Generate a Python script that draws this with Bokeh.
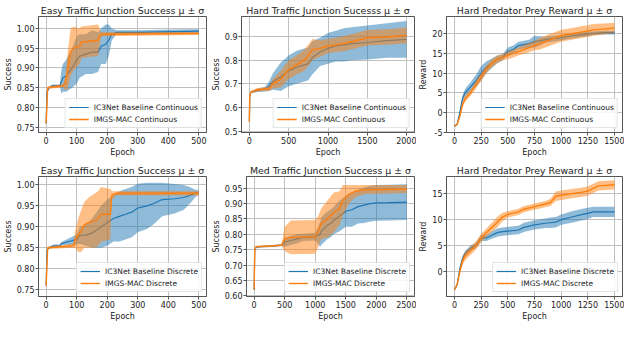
import numpy as np
from bokeh.plotting import figure
from bokeh.layouts import column, row
from bokeh.models import FixedTicker, Range1d, Legend, NumeralTickFormatter
from bokeh.embed import file_html
from bokeh.resources import INLINE

BLUE = "#1f77b4"
ORANGE = "#ff7f0e"
FONT = "DejaVu Sans"

# ---------------- Panel 1: Easy Traffic Junction (Continuous) ----------------
p1_bx = [0, 3, 10, 20, 45, 50, 55, 65, 75, 85, 100, 110, 130, 150, 170, 180, 195, 205, 215, 230, 300, 420, 500]
p1_bm = [0.76, 0.84, 0.85, 0.855, 0.855, 0.865, 0.875, 0.88, 0.89, 0.90, 0.92, 0.93, 0.935, 0.94, 0.94, 0.955, 0.96, 0.97, 0.985, 0.99, 0.99, 0.992, 0.993]
p1_bs = [0, 0.002, 0.003, 0.003, 0.003, 0.03, 0.035, 0.04, 0.045, 0.05, 0.06, 0.055, 0.05, 0.055, 0.05, 0.045, 0.05, 0.04, 0.015, 0.005, 0.005, 0.005, 0.005]
p1_ox = [0, 5, 55, 62, 70, 80, 90, 110, 115, 170, 180, 500]
p1_om = [0.76, 0.85, 0.855, 0.86, 0.89, 0.94, 0.95, 0.955, 0.965, 0.97, 0.985, 0.987]
p1_os = [0, 0.003, 0.004, 0.015, 0.045, 0.06, 0.055, 0.045, 0.04, 0.04, 0.005, 0.004]

# ---------------- Panel 2: Hard Traffic Junction (Continuous) ----------------
p2_x = [0, 5, 20, 100, 200, 250, 300, 400, 500, 600, 700, 750, 800, 900, 1000, 1100, 1200, 1300, 1500, 1750, 2000]
p2_bm = [0.54, 0.65, 0.665, 0.672, 0.678, 0.69, 0.71, 0.73, 0.755, 0.77, 0.78, 0.785, 0.81, 0.835, 0.85, 0.86, 0.865, 0.87, 0.875, 0.883, 0.888]
p2_bs = [0, 0.005, 0.005, 0.007, 0.01, 0.02, 0.035, 0.06, 0.065, 0.07, 0.07, 0.07, 0.07, 0.06, 0.065, 0.065, 0.07, 0.07, 0.072, 0.073, 0.078]
p2_om = [0.54, 0.65, 0.665, 0.675, 0.678, 0.68, 0.70, 0.72, 0.76, 0.78, 0.80, 0.82, 0.845, 0.85, 0.86, 0.865, 0.87, 0.878, 0.895, 0.898, 0.905]
p2_os = [0, 0.005, 0.005, 0.007, 0.008, 0.01, 0.02, 0.035, 0.04, 0.04, 0.045, 0.045, 0.045, 0.035, 0.03, 0.03, 0.032, 0.032, 0.033, 0.033, 0.033]

# ---------------- Panel 3: Hard Predator Prey (Continuous) ----------------
p3_x = [0, 25, 50, 75, 100, 150, 200, 250, 300, 350, 400, 450, 500, 550, 600, 700, 750, 800, 850, 900, 1000, 1100, 1200, 1250, 1300, 1400, 1500]
p3_bm = [-3.5, -3, 0, 3.5, 5, 6.5, 8, 10, 11.5, 12.5, 13.5, 14, 15.5, 16, 17, 17.5, 18, 18.2, 18.5, 18.7, 19, 19.5, 19.8, 20, 20.1, 20.3, 20.3]
p3_bs = [0.2, 0.3, 0.5, 0.8, 1, 1.2, 1.5, 1.8, 1.5, 1.2, 1, 0.8, 1, 1, 1, 1, 1.5, 1.2, 0.8, 0.8, 0.7, 0.7, 0.6, 0.6, 0.5, 0.5, 0.5]
p3_om = [-3.5, -3, -1, 2, 3.5, 5, 7, 9, 11, 12.5, 13.5, 14, 14.5, 15, 15.5, 16.5, 17, 17.5, 18, 18.5, 19.5, 20, 20.5, 20.7, 21, 21.2, 21.5]
p3_os = [0.2, 0.3, 0.5, 0.8, 0.8, 0.8, 1, 1, 1, 1, 1, 0.8, 1, 1, 1, 1.2, 1.2, 1.5, 1.5, 1.5, 1.5, 1.5, 1.5, 1.5, 1.5, 1.4, 1.3]

# ---------------- Panel 4: Easy Traffic Junction (Discrete) ----------------
p4_bx = [0, 3, 10, 25, 45, 50, 75, 100, 110, 130, 150, 160, 180, 200, 220, 240, 260, 280, 300, 330, 350, 380, 420, 450, 470, 490, 500]
p4_bm = [0.76, 0.845, 0.85, 0.855, 0.855, 0.86, 0.865, 0.87, 0.88, 0.88, 0.885, 0.89, 0.90, 0.91, 0.92, 0.925, 0.93, 0.935, 0.945, 0.95, 0.955, 0.965, 0.967, 0.97, 0.975, 0.98, 0.982]
p4_bs = [0, 0.002, 0.003, 0.003, 0.003, 0.004, 0.008, 0.012, 0.02, 0.025, 0.035, 0.04, 0.05, 0.055, 0.055, 0.06, 0.06, 0.06, 0.058, 0.055, 0.05, 0.04, 0.035, 0.03, 0.02, 0.008, 0.005]
p4_ox = [0, 5, 90, 95, 105, 115, 125, 140, 160, 170, 180, 210, 215, 230, 500]
p4_om = [0.76, 0.85, 0.855, 0.87, 0.88, 0.89, 0.905, 0.91, 0.915, 0.92, 0.93, 0.93, 0.975, 0.98, 0.98]
p4_os = [0, 0.003, 0.005, 0.02, 0.04, 0.05, 0.055, 0.06, 0.065, 0.065, 0.065, 0.06, 0.01, 0.005, 0.005]

# ---------------- Panel 5: Med Traffic Junction (Discrete) ----------------
p5_bx = [0, 10, 30, 100, 300, 450, 500, 600, 700, 800, 1000, 1080, 1100, 1150, 1200, 1250, 1300, 1400, 1500, 1600, 1700, 1800, 1900, 2000, 2200, 2500]
p5_bm = [0.62, 0.75, 0.758, 0.76, 0.762, 0.765, 0.775, 0.78, 0.785, 0.79, 0.792, 0.80, 0.81, 0.82, 0.83, 0.835, 0.845, 0.86, 0.875, 0.88, 0.89, 0.895, 0.90, 0.902, 0.903, 0.905]
p5_bs = [0, 0.003, 0.003, 0.003, 0.003, 0.003, 0.015, 0.015, 0.015, 0.012, 0.012, 0.04, 0.045, 0.045, 0.045, 0.045, 0.045, 0.05, 0.05, 0.055, 0.055, 0.058, 0.058, 0.058, 0.058, 0.058]
p5_ox = [0, 10, 30, 300, 450, 500, 600, 1000, 1050, 1100, 1200, 1300, 1400, 1450, 1550, 1650, 1800, 2500]
p5_om = [0.62, 0.75, 0.76, 0.762, 0.765, 0.785, 0.79, 0.792, 0.81, 0.835, 0.85, 0.87, 0.885, 0.91, 0.93, 0.94, 0.945, 0.947]
p5_os = [0, 0.003, 0.003, 0.003, 0.003, 0.04, 0.055, 0.055, 0.05, 0.05, 0.06, 0.065, 0.055, 0.05, 0.03, 0.02, 0.015, 0.013]

# ---------------- Panel 6: Hard Predator Prey (Discrete) ----------------
p6_x = [0, 25, 50, 75, 100, 125, 150, 200, 250, 300, 350, 400, 450, 500, 600, 650, 750, 850, 900, 950, 1000, 1100, 1200, 1250, 1300, 1350, 1500]
p6_bm = [-3.5, -2.5, 0.5, 2.5, 3.5, 4, 4.5, 5, 6.5, 6.5, 7, 7.5, 7.7, 7.8, 8, 8.5, 9, 9.3, 9.4, 9.5, 10, 10.5, 11, 11.2, 11.5, 11.5, 11.5]
p6_bs = [0.2, 0.3, 0.5, 0.5, 0.5, 0.5, 0.5, 0.5, 0.6, 0.6, 0.7, 0.8, 0.8, 0.8, 0.8, 0.9, 0.9, 0.9, 1.0, 1.0, 1.0, 1.1, 1.1, 1.1, 1.0, 1.0, 1.0]
p6_om = [-3.5, -2.5, 0, 2, 3, 3.5, 4, 5, 6.5, 7.5, 8.5, 9.5, 10.5, 11, 11.5, 12, 12.5, 13, 13.3, 14.5, 14.7, 15, 15.3, 15.5, 16, 16.5, 16.7]
p6_os = [0.2, 0.3, 0.5, 0.8, 0.8, 0.8, 0.8, 0.8, 0.8, 0.8, 0.9, 1.0, 0.8, 0.6, 0.6, 0.6, 0.6, 0.6, 0.7, 0.9, 0.9, 0.9, 0.9, 0.9, 0.9, 0.9, 0.9]

# tick values
xt_500 = [0, 100, 200, 300, 400, 500]
xt_2000 = [0, 500, 1000, 1500, 2000]
xt_1500 = [0, 250, 500, 750, 1000, 1250, 1500]
xt_2500 = [0, 500, 1000, 1500, 2000, 2500]
yt_easy = [0.75, 0.80, 0.85, 0.90, 0.95, 1.00]
yt_hard = [0.5, 0.6, 0.7, 0.8, 0.9]
yt_pp_c = [-5, 0, 5, 10, 15, 20]
yt_med = [0.60, 0.65, 0.70, 0.75, 0.80, 0.85, 0.90, 0.95]
yt_pp_d = [0, 5, 10, 15]

LBL_C = ["IC3Net Baseline Continuous", "IMGS-MAC Continuous"]
LBL_D = ["IC3Net Baseline Discrete", "IMGS-MAC Discrete"]


def panel(title, bx, bm, bs, ox, om, osd, xr, yr, xt, yt, yfmt, ylabel, labels, w, h, top, bottom):
    p = figure(width=w, height=h, output_backend="svg", toolbar_location=None,
               x_range=Range1d(*xr), y_range=Range1d(*yr),
               min_border_left=30, min_border_right=2,
               min_border_top=top, min_border_bottom=bottom)
    p.title.text = title
    p.title.align = "center"
    p.title.text_font = FONT
    p.title.text_font_size = "9.4px"
    p.title.text_font_style = "normal"
    p.title.text_color = "#222222"
    p.title.standoff = 1
    bm_a, bs_a = np.array(bm), np.array(bs)
    om_a, os_a = np.array(om), np.array(osd)
    p.varea(x=bx, y1=bm_a - bs_a, y2=bm_a + bs_a, fill_color=BLUE, fill_alpha=0.5)
    l1 = p.line(bx, bm, line_color=BLUE, line_width=1.2)
    p.varea(x=ox, y1=om_a - os_a, y2=om_a + os_a, fill_color=ORANGE, fill_alpha=0.5)
    l2 = p.line(ox, om, line_color=ORANGE, line_width=1.4)

    p.xaxis.ticker = FixedTicker(ticks=xt)
    p.yaxis.ticker = FixedTicker(ticks=yt)
    p.yaxis.formatter = NumeralTickFormatter(format=yfmt)
    for ax in (p.xaxis[0], p.yaxis[0]):
        ax.major_label_text_font = FONT
        ax.major_label_text_font_size = "8px"
        ax.major_label_text_color = "#222222"
        ax.axis_label_text_font = FONT
        ax.axis_label_text_font_size = "8px"
        ax.axis_label_text_font_style = "normal"
        ax.axis_label_text_color = "#222222"
        ax.axis_label_standoff = 1
        ax.major_label_standoff = 1
        ax.major_tick_out = 3
        ax.major_tick_in = 0
        ax.minor_tick_out = 0
        ax.minor_tick_in = 0
        ax.axis_line_color = "#555555"
        ax.major_tick_line_color = "#555555"
    p.xaxis.axis_label = "Epoch"
    p.yaxis.axis_label = ylabel
    p.outline_line_color = "#555555"
    p.outline_line_width = 1
    p.grid.grid_line_color = "#c0c0c0"
    p.grid.grid_line_width = 1
    p.grid.minor_grid_line_color = "#f0f0f0"

    leg = Legend(items=[(labels[0], [l1]), (labels[1], [l2])], location="bottom_right")
    leg.label_text_font = FONT
    leg.label_text_font_size = "7.5px"
    leg.label_text_color = "#222222"
    leg.label_height = 10
    leg.glyph_height = 10
    leg.glyph_width = 20
    leg.spacing = 2
    leg.padding = 3
    leg.margin = 4
    leg.border_line_color = "#cccccc"
    leg.background_fill_alpha = 0.85
    p.add_layout(leg)
    return p


W = 208
H1, H2 = 159, 164
T1, B1 = 16, 22
T2, B2 = 17, 22

f1 = panel("Easy Traffic Junction Success μ ± σ", p1_bx, p1_bm, p1_bs, p1_ox, p1_om, p1_os,
           (-25, 525), (0.737, 1.030), xt_500, yt_easy, "0.00", "Success", LBL_C, W, H1, T1, B1)
f2 = panel("Hard Traffic Junction Sucesss μ ± σ", p2_x, p2_bm, p2_bs, p2_x, p2_om, p2_os,
           (-100, 2100), (0.494, 0.985), xt_2000, yt_hard, "0.0", "Success", LBL_C, W, H1, T1, B1)
f3 = panel("Hard Predator Prey Reward μ ± σ", p3_x, p3_bm, p3_bs, p3_x, p3_om, p3_os,
           (-75, 1575), (-5.1, 24.4), xt_1500, yt_pp_c, "0", "Reward", LBL_C, W, H1, T1, B1)
f4 = panel("Easy Traffic Junction Success μ ± σ", p4_bx, p4_bm, p4_bs, p4_ox, p4_om, p4_os,
           (-25, 525), (0.734, 1.020), xt_500, yt_easy, "0.00", "Success", LBL_D, W, H2, T2, B2)
f5 = panel("Med Traffic Junction Success μ ± σ", p5_bx, p5_bm, p5_bs, p5_ox, p5_om, p5_os,
           (-125, 2625), (0.598, 0.988), xt_2500, yt_med, "0.00", "Success", LBL_D, W, H2, T2, B2)
f6 = panel("Hard Predator Prey Reward μ ± σ", p6_x, p6_bm, p6_bs, p6_x, p6_om, p6_os,
           (-75, 1575), (-4.8, 18.3), xt_1500, yt_pp_d, "0", "Reward", LBL_D, W, H2, T2, B2)

layout = column(row(f1, f2, f3), row(f4, f5, f6))

with open("out.html", "w") as fh:
    fh.write(file_html(layout, INLINE))
